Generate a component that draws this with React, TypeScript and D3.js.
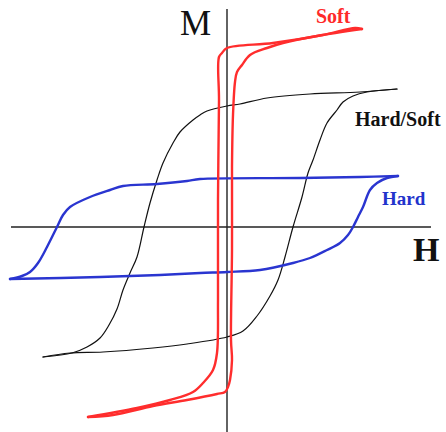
import React from "react";
import * as d3 from "d3";

type P = [number, number];

// Units: H and M in arbitrary units (origin at axis crossing)
const softDesc: P[] = [
  [13.5, 19.8], [12.8, 19.9], [9.6, 19.2], [4.6, 18.4], [0, 17.9], [-0.5, 17.4],
  [-0.8, 17.0], [-0.8, 12.7], [-0.9, 2.7], [-0.9, -7.3], [-1.0, -12.6], [-1.4, -14.3],
  [-2.4, -15.6], [-3.4, -16.5], [-5.7, -17.3], [-9.0, -18.1], [-13.9, -19.0],
];
const softAsc: P[] = [
  [-13.9, -19.0], [-11.4, -18.8], [-7.4, -17.9], [-4.0, -17.3], [-1.0, -16.7],
  [-0.2, -16.5], [0.1, -16.0], [0.3, -15.3], [0.5, -13.3], [0.4, -11.3], [0.5, -2.3],
  [0.5, 6.0], [0.6, 11.2], [0.8, 14.5], [1.0, 15.5], [1.5, 16.2], [2.3, 17.2],
  [4.0, 17.9], [5.6, 18.4], [9.0, 19.1], [13.5, 19.8],
];
const hardSoftDesc: P[] = [
  [17.0, 13.8], [13.3, 13.5], [8.3, 13.3], [4.0, 12.9], [1.3, 12.3], [0, 12.1],
  [-2.0, 11.6], [-2.7, 11.2], [-3.4, 10.7], [-4.7, 9.5], [-5.4, 8.4], [-6.4, 6.4],
  [-7.0, 4.7], [-7.7, 2.4], [-8.3, 0], [-9.0, -3.0], [-9.7, -4.6], [-10.4, -6.3],
  [-11.0, -8.2], [-11.8, -9.8], [-12.7, -11.1], [-14.0, -12.0], [-15.5, -12.6],
  [-18.4, -13.0],
];
const hardSoftAsc: P[] = [
  [-18.4, -13.0], [-15.7, -12.6], [-12.4, -12.5], [-7.4, -12.1], [-4.0, -11.7],
  [0, -11.0], [1.6, -10.4], [3.0, -8.9], [4.3, -6.9], [5.1, -5.3], [5.8, -3.0],
  [6.6, 0], [7.5, 3.0], [8.1, 5.4], [8.6, 6.7], [9.3, 8.7], [10.0, 10.4],
  [11.0, 11.7], [11.6, 12.5], [12.6, 13.1], [14.0, 13.5], [17.0, 13.8],
];
const hardDesc: P[] = [
  [17.1, 5.1], [13.3, 5.0], [7.3, 4.9], [-2.7, 4.8], [-4.0, 4.6], [-7.0, 4.3],
  [-10.4, 4.1], [-11.7, 3.7], [-13.7, 3.0], [-15.7, 2.0], [-16.4, 1.2], [-17.0, 0],
  [-18.0, -2.0], [-18.9, -3.6], [-19.7, -4.5], [-20.5, -4.9], [-21.7, -5.2],
];
const hardAsc: P[] = [
  [-21.7, -5.2], [-12.7, -5.0], [-6.7, -4.8], [-2.7, -4.6], [0, -4.5], [3.3, -4.3],
  [6.6, -3.6], [8.3, -3.1], [10.0, -2.3], [11.3, -1.6], [12.1, -0.8], [12.6, 0],
  [13.1, 1.0], [13.6, 2.0], [14.3, 3.7], [15.0, 4.4], [16.0, 4.9], [17.1, 5.1],
];

const hExtent = [-21.6, 20.4];
const mExtent = [21.8, -20.5];

const labels = [
  { text: "Soft", h: 8.9, m: 20.4, color: "#ff2a2a", size: 20, bold: true },
  { text: "Hard/Soft", h: 12.8, m: 10.1, color: "#111111", size: 20, bold: true },
  { text: "Hard", h: 15.5, m: 2.2, color: "#2233cc", size: 19, bold: true },
  { text: "H", h: 18.6, m: -3.4, color: "#111111", size: 34, bold: true },
  { text: "M", h: -4.7, m: 19.2, color: "#111111", size: 35, bold: false },
];

const W = 446;
const H = 432;

export default function App() {
  const x = d3.scaleLinear().domain([-22.7, 21.9]).range([0, W]);
  const y = d3.scaleLinear().domain([22.7, -20.5]).range([0, H]);
  const line = d3
    .line<P>()
    .x((d) => x(d[0]))
    .y((d) => y(d[1]))
    .curve(d3.curveCatmullRom.alpha(0.5));

  const loops = [
    { data: hardSoftDesc, color: "#111111", w: 1.2 },
    { data: hardSoftAsc, color: "#111111", w: 1.2 },
    { data: hardDesc, color: "#2a35d0", w: 2.4 },
    { data: hardAsc, color: "#2a35d0", w: 2.4 },
    { data: softDesc, color: "#ff2d2d", w: 2.4 },
    { data: softAsc, color: "#ff2d2d", w: 2.4 },
  ];

  return (
    <svg
      width={W}
      height={H}
      style={{ position: "absolute", left: 0, top: 0, background: "#fff" }}
    >
      <rect width={W} height={H} fill="#fff" />
      <line x1={x(hExtent[0])} x2={x(hExtent[1])} y1={y(0)} y2={y(0)} stroke="#222" strokeWidth={1.4} />
      <line x1={x(0)} x2={x(0)} y1={y(mExtent[0])} y2={y(mExtent[1])} stroke="#222" strokeWidth={1.4} />
      {loops.map((l, i) => (
        <path key={i} d={line(l.data) || ""} fill="none" stroke={l.color} strokeWidth={l.w} strokeLinejoin="round" strokeLinecap="round" />
      ))}
      {labels.map((t, i) => (
        <text
          key={i}
          x={x(t.h)}
          y={y(t.m)}
          fill={t.color}
          fontSize={t.size}
          fontWeight={t.bold ? "bold" : "normal"}
          fontFamily="'Liberation Serif', 'DejaVu Serif', serif"
        >
          {t.text}
        </text>
      ))}
    </svg>
  );
}
